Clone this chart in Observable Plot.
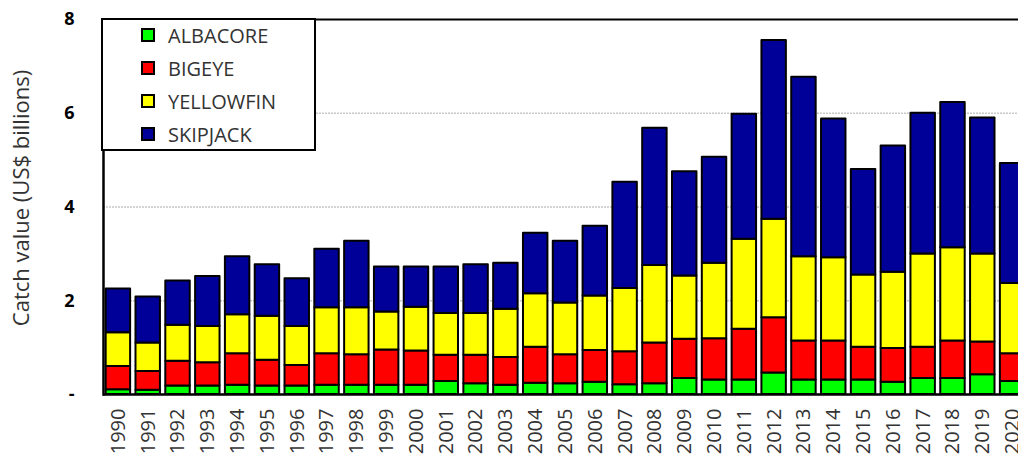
<!DOCTYPE html>
<html>
<head>
<meta charset="utf-8">
<script src="https://cdn.jsdelivr.net/npm/d3@7"></script>
<script src="https://cdn.jsdelivr.net/npm/@observablehq/plot@0.6"></script>
<style>
  html, body { margin: 0; padding: 0; background: #fff; overflow: hidden; }
  #wrap { position: relative; width: 1030px; height: 459px; }
  #legend {
    position: absolute; left: 101px; top: 18px; width: 211px; height: 129px;
    border: 2px solid #000; background: #fff; box-sizing: content-box;
    font-family: "Open Sans", sans-serif; font-size: 20px; color: #333;
  }
  #legend .row { position: absolute; left: 38px; height: 24px; display: flex; align-items: center; }
  #legend .sw { width: 10px; height: 10px; border: 2px solid #000; margin-right: 13px; }
</style>
</head>
<body>
<div id="wrap"><div id="legend"></div></div>
<script>
// Annual catch value by species, US$ billions
const years = d3.range(1990, 2021);
const species = ["ALBACORE", "BIGEYE", "YELLOWFIN", "SKIPJACK"];
const colors = ["#00ff00", "#ff0000", "#ffff00", "#000099"];

const albacore = [0.10, 0.09, 0.18, 0.18, 0.20, 0.18, 0.18, 0.20, 0.20, 0.20, 0.20, 0.28, 0.23, 0.20, 0.24, 0.23,
  0.26, 0.21, 0.23, 0.34, 0.31, 0.31, 0.46, 0.31, 0.31, 0.31, 0.26, 0.34, 0.34, 0.42, 0.28];
const bigeye = [0.50, 0.40, 0.53, 0.50, 0.67, 0.55, 0.44, 0.67, 0.65, 0.75, 0.73, 0.56, 0.61, 0.59, 0.77, 0.62,
  0.68, 0.70, 0.87, 0.84, 0.88, 1.08, 1.18, 0.83, 0.83, 0.70, 0.72, 0.67, 0.80, 0.70, 0.59];
const yellowfin = [0.72, 0.61, 0.77, 0.77, 0.83, 0.94, 0.83, 0.98, 1.00, 0.81, 0.93, 0.89, 0.89, 1.03, 1.14, 1.10,
  1.16, 1.35, 1.65, 1.35, 1.61, 1.92, 2.10, 1.80, 1.78, 1.54, 1.63, 1.99, 1.99, 1.88, 1.50];
const skipjack = [0.93, 0.98, 0.94, 1.07, 1.24, 1.10, 1.02, 1.25, 1.42, 0.96, 0.86, 0.99, 1.04, 0.98, 1.29, 1.32,
  1.49, 2.27, 2.93, 2.22, 2.26, 2.67, 3.81, 3.83, 2.96, 2.25, 2.69, 3.00, 3.10, 2.90, 2.56];

const yTicks = [0, 2, 4, 6, 8];
const series = [albacore, bigeye, yellowfin, skipjack];

// long-format table, stacked bottom to top in species order
const rows = [];
species.forEach((s, i) => years.forEach((yr, j) => rows.push({year: yr, species: s, value: series[i][j]})));

const chart = Plot.plot({
  width: 1030,
  height: 459,
  marginLeft: 103,
  marginRight: 3,
  marginTop: 19,
  marginBottom: 65,
  style: {fontFamily: "'Open Sans', sans-serif", background: "#fff"},
  x: {domain: years, paddingInner: 0.18, paddingOuter: 0.09, round: false, label: null},
  y: {domain: [0, 8], label: null},
  color: {domain: species, range: colors},
  marks: [
    Plot.gridY(yTicks.filter(d => d > 0 && d < 8), {stroke: "#c8c8c8", strokeOpacity: 1, strokeWidth: 1.5, strokeDasharray: "2,1"}),
    Plot.ruleY([8], {stroke: "#000", strokeWidth: 2}),
    Plot.barY(rows, {x: "year", y: "value", fill: "species", stroke: "#000", strokeWidth: 2, strokeLinejoin: "round"}),
    Plot.ruleY([0], {stroke: "#000", strokeWidth: 2.5}),
    Plot.frame({anchor: "left", stroke: "#000", strokeWidth: 2.5}),
    Plot.axisY(yTicks, {
      tickSize: 0, tickPadding: 29, fontSize: 18, fontWeight: "bold", fill: "#000",
      tickFormat: d => d === 0 ? "-" : String(d), label: null
    }),
    Plot.axisX({tickSize: 0, tickPadding: 14, tickRotate: -90, fontSize: 20, fill: "#333",
      tickFormat: d => String(d), label: null}),
    Plot.text(["Catch value (US$ billions)"], {
      frameAnchor: "left", textAnchor: "middle", rotate: -90, dx: -82, dy: -9, fontSize: 22, fill: "#333"
    })
  ]
});
document.getElementById("wrap").prepend(chart);

// legend box in the upper left corner
const legend = document.getElementById("legend");
species.forEach((s, i) => {
  const row = document.createElement("div");
  row.className = "row";
  row.style.top = (3 + i * 33) + "px";
  const sw = document.createElement("span");
  sw.className = "sw";
  sw.style.background = colors[i];
  const t = document.createElement("span");
  t.textContent = s;
  row.append(sw, t);
  legend.append(row);
});
</script>
</body>
</html>
